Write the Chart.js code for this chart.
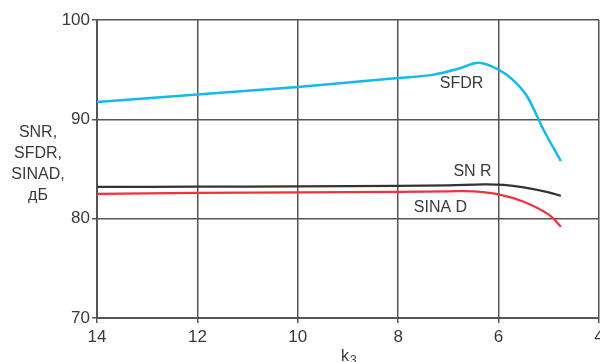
<!DOCTYPE html>
<html>
<head>
<meta charset="utf-8">
<script src="https://cdn.jsdelivr.net/npm/chart.js@4.4.1/dist/chart.umd.min.js"></script>
<style>
    html, body { margin: 0; padding: 0; background: #fff; }
    #wrap { width: 600px; height: 362px; }
</style>
</head>
<body>
<div id="wrap"><canvas id="adcChart"></canvas></div>
<script>
const xTicks = [14, 12, 10, 8, 6, 4];
const yTicks = [70, 80, 90, 100];

const sfdrK = [14, 12, 10, 8, 7.3, 6.8, 6.4, 6.0, 5.7, 5.43, 5.1, 4.76];
const sfdrDb = [91.75, 92.5, 93.25, 94.15, 94.5, 95.1, 95.7, 95.0, 93.9, 92.3, 88.9, 85.8];

const snrK = [14, 12, 10, 8, 7, 6.3, 5.9, 5.5, 5.0, 4.76];
const snrDb = [83.2, 83.22, 83.25, 83.3, 83.35, 83.45, 83.4, 83.15, 82.65, 82.3];

const sinadK = [14, 12, 10, 8, 7, 6.5, 6.0, 5.5, 5.0, 4.76];
const sinadDb = [82.5, 82.6, 82.65, 82.7, 82.75, 82.75, 82.45, 81.7, 80.4, 79.2];

function toPoints(xs, ys) {
    return xs.map(function (x, i) {
        return { x: x, y: ys[i] };
    });
}

const textColor = '#3a3a3a';
const gridColor = '#555555';

const labelsPlugin = {
    id: 'curveLabels',
    afterDraw: function (chart) {
        const ctx = chart.ctx;
        const xs = chart.scales.x;
        const ys = chart.scales.y;

        ctx.save();
        ctx.fillStyle = textColor;
        ctx.font = '16px "Liberation Sans", Arial, sans-serif';
        ctx.textBaseline = 'middle';
        ctx.textAlign = 'left';
        ctx.fillText('SFDR', xs.getPixelForValue(7.17), ys.getPixelForValue(93.6));
        ctx.fillText('SN R', xs.getPixelForValue(6.9), ys.getPixelForValue(84.7));
        ctx.fillText('SINA D', xs.getPixelForValue(7.69), ys.getPixelForValue(81.1));

        ctx.textAlign = 'center';
        const yTitle = ['SNR,', 'SFDR,', 'SINAD,', 'дБ'];
        yTitle.forEach(function (line, i) {
            ctx.fillText(line, 38, 133 + i * 21);
        });

        ctx.textAlign = 'left';
        ctx.textBaseline = 'alphabetic';
        ctx.fillText('k', 341, 361);
        ctx.font = '12px "Liberation Sans", Arial, sans-serif';
        ctx.fillText('3', 350, 364);
        ctx.restore();
    },
};

new Chart(document.getElementById('adcChart'), {
    type: 'line',
    data: {
        datasets: [
            {
                label: 'SFDR',
                data: toPoints(sfdrK, sfdrDb),
                borderColor: '#16b9e9',
                borderWidth: 2.5,
                pointRadius: 0,
                cubicInterpolationMode: 'monotone',
            },
            {
                label: 'SNR',
                data: toPoints(snrK, snrDb),
                borderColor: '#333333',
                borderWidth: 2.2,
                pointRadius: 0,
                tension: 0.4,
            },
            {
                label: 'SINAD',
                data: toPoints(sinadK, sinadDb),
                borderColor: '#f0323f',
                borderWidth: 2.2,
                pointRadius: 0,
                tension: 0.4,
            },
        ],
    },
    options: {
        responsive: true,
        maintainAspectRatio: false,
        animation: false,
        layout: {
            padding: { top: 20, right: 1, left: 0, bottom: 0 },
        },
        plugins: {
            legend: { display: false },
            tooltip: { enabled: false },
        },
        scales: {
            x: {
                type: 'linear',
                reverse: true,
                min: 4,
                max: 14,
                afterBuildTicks: function (scale) {
                    scale.ticks = xTicks.map(function (v) { return { value: v }; });
                },
                afterFit: function (scale) {
                    scale.height = 44;
                    scale.paddingLeft = 0;
                    scale.paddingRight = 0;
                },
                grid: {
                    color: gridColor,
                    lineWidth: 1.5,
                    tickLength: 5,
                },
                border: { color: gridColor, width: 2 },
                ticks: {
                    color: textColor,
                    padding: 4,
                    maxRotation: 0,
                    autoSkip: false,
                    font: { family: '"Liberation Sans", Arial, sans-serif', size: 17 },
                },
            },
            y: {
                min: 70,
                max: 100,
                afterBuildTicks: function (scale) {
                    scale.ticks = yTicks.map(function (v) { return { value: v }; });
                },
                afterFit: function (scale) {
                    scale.width = 97;
                },
                grid: {
                    color: gridColor,
                    lineWidth: 1.5,
                    tickLength: 5,
                },
                border: { color: gridColor, width: 2 },
                ticks: {
                    color: textColor,
                    padding: 2,
                    font: { family: '"Liberation Sans", Arial, sans-serif', size: 17 },
                },
            },
        },
    },
    plugins: [labelsPlugin],
});
</script>
</body>
</html>
